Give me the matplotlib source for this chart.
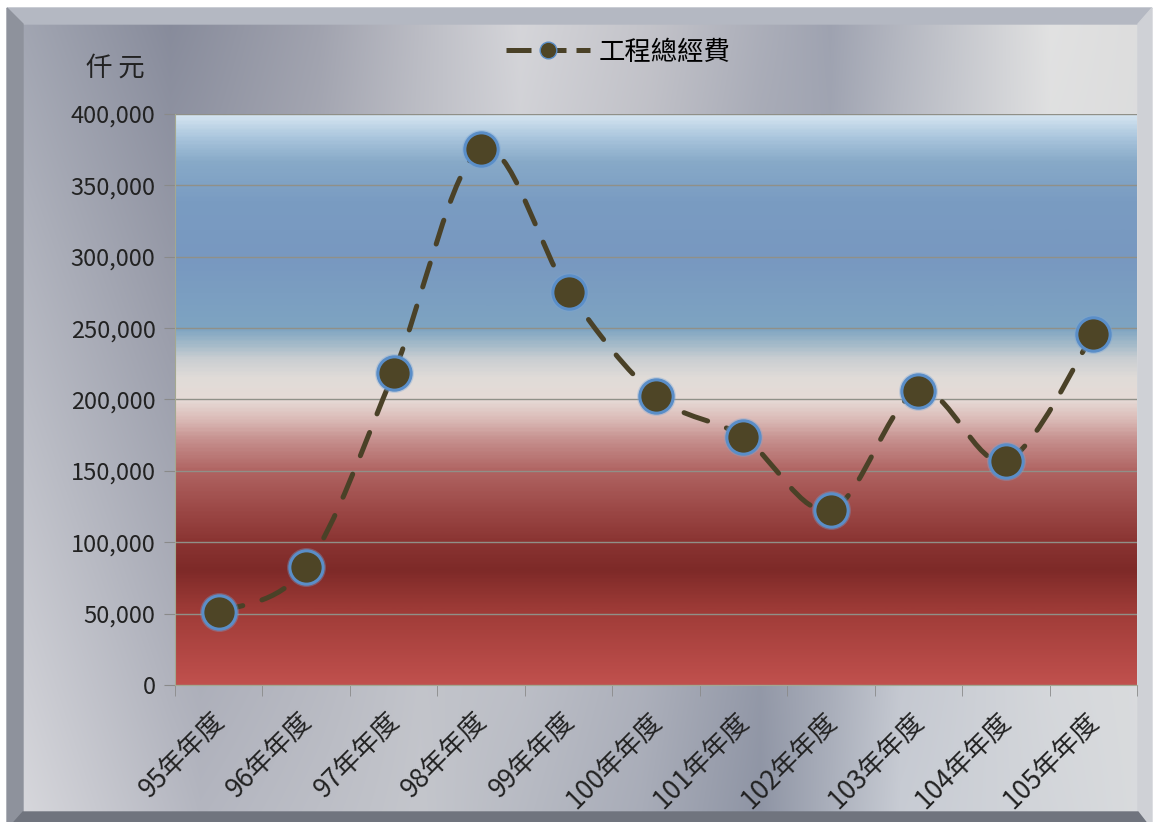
import numpy as np
import matplotlib
matplotlib.use('Agg')
import matplotlib.pyplot as plt
import matplotlib.transforms as mtransforms
from matplotlib.path import Path
from matplotlib.patches import PathPatch, Polygon
from matplotlib.colors import LinearSegmentedColormap, to_rgb
from matplotlib.lines import Line2D
from matplotlib.ticker import FuncFormatter, MultipleLocator

plt.rcParams['font.family'] = ['Noto Sans CJK TC', 'DejaVu Sans']

# 資料
years = ['95年年度', '96年年度', '97年年度', '98年年度', '99年年度', '100年年度',
         '101年年度', '102年年度', '103年年度', '104年年度', '105年年度']
funding = [51000, 82700, 218600, 375500, 275300, 202500,
           173700, 122600, 206000, 156900, 245900]
series_name = '工程總經費'
unit_label = '仟 元'

W, H = 1157, 822
fig = plt.figure(figsize=(W / 100, H / 100), dpi=100)
fig.patch.set_facecolor('white')

# 背景 (金屬感漸層 + 斜角外框)
bg = fig.add_axes([0, 0, 1, 1], zorder=-10)
bg.set_xlim(0, W)
bg.set_ylim(H, 0)
bg.axis('off')


def perfil(stops, xs):
    px = [s[0] for s in stops]
    cols = np.array([to_rgb(s[1]) for s in stops])
    return np.stack([np.interp(xs, px, cols[:, c]) for c in range(3)], axis=-1)


xs = np.arange(W)
top = perfil([(0, '#a4a8b4'), (170, '#868a9a'), (320, '#a0a2ae'), (520, '#d6d6da'),
              (650, '#c4c4ca'), (830, '#9ea2b0'), (1050, '#e2e2e2'), (1157, '#dcdcdc')], xs)
bottom = perfil([(0, '#dcdce0'), (200, '#b4b6c0'), (420, '#c4c6cc'), (640, '#a8acb8'),
                 (760, '#8e94a4'), (900, '#c8ccd4'), (1157, '#dadcde')], xs)
t = np.linspace(0, 1, H)[:, None, None]
img = top[None, :, :] * (1 - t) + bottom[None, :, :] * t
bg.imshow(img, extent=[0, W, H, 0], aspect='auto', zorder=0)

# 外框白邊
ox0, oy0, ox1, oy1 = 7, 8, 1152, 830
ix0, iy0, ix1, iy1 = 23, 24, 1138, 812
for rect in [(0, 0, W, oy0), (0, 0, ox0, H), (ox1, 0, W, H)]:
    bg.add_patch(plt.Rectangle((rect[0], rect[1]), rect[2] - rect[0], rect[3] - rect[1],
                               color='white', zorder=2))
bg.add_patch(Polygon([(ox0, oy0), (ox1, oy0), (ix1, iy0), (ix0, iy0)], color='#b4b8c2', zorder=3))
bg.add_patch(Polygon([(ox0, oy0), (ix0, iy0), (ix0, iy1), (ox0, oy1)], color='#8e929c', zorder=3))
bg.add_patch(Polygon([(ox1, oy0), (ox1, oy1), (ix1, iy1), (ix1, iy0)], color='#cfd1d6', zorder=3))
bg.add_patch(Polygon([(ix0, iy1), (ix1, iy1), (ox1, oy1), (ox0, oy1)], color='#70747e', zorder=3))

# 主圖
ax = fig.add_axes([175 / W, 1 - 685 / H, 962 / W, 571 / H])
ax.patch.set_alpha(0)
ax.set_xlim(-0.5, len(years) - 0.5)
ax.set_ylim(0, 400000)

grad = LinearSegmentedColormap.from_list('area', [
    (0.0, '#c0504d'), (0.125, '#a03c38'), (0.20, '#7e2a28'), (0.25, '#8a3432'),
    (0.30, '#9a4644'), (0.375, '#b06462'), (0.425, '#c48c8a'), (0.47, '#ddc0bc'),
    (0.50, '#e6dad6'), (0.5375, '#e0dcd8'), (0.57, '#cccfd2'), (0.60, '#a0b8c8'),
    (0.625, '#7ea4c2'), (0.75, '#7898c0'), (0.85, '#7a9cc2'),
    (0.92, '#88aac8'), (0.96, '#a8c4dc'), (1.0, '#d4e4f0')])
ax.imshow(np.linspace(0, 1, 400)[:, None], cmap=grad, origin='lower', aspect='auto',
          extent=[-0.5, len(years) - 0.5, 0, 400000], zorder=0)

ax.yaxis.set_major_locator(MultipleLocator(50000))
ax.yaxis.set_major_formatter(FuncFormatter(lambda v, p: f'{v:,.0f}'))
ax.grid(axis='y', color='#909088', lw=1, zorder=1)

x = np.arange(len(years))
ax.set_xticks(x)
ax.set_xticklabels(years, rotation=45, ha='right', va='top', rotation_mode='anchor', fontsize=19)
ax.set_xticks(np.arange(-0.5, len(years)), minor=True)
ax.tick_params(axis='x', which='major', length=0, pad=16, colors='#222222')
ax.tick_params(axis='x', which='minor', length=8, color='#8a8a8a', direction='out')
ax.tick_params(axis='y', length=8, color='#8a8a8a', labelsize=17, labelcolor='#222222', pad=6)
shift = mtransforms.ScaledTranslation(-8 / 100, 0, fig.dpi_scale_trans)
for lab in ax.get_xticklabels():
    lab.set_transform(lab.get_transform() + shift)
for s in ['top', 'right']:
    ax.spines[s].set_visible(False)
ax.spines['bottom'].set_color('#a4a890')
ax.spines['left'].set_color('#a4a890')

# 平滑曲線 (Bezier)
pts = np.column_stack([x, funding]).astype(float)
n = len(pts)
verts = [pts[0]]
codes = [Path.MOVETO]
for i in range(n - 1):
    p0 = pts[i - 1] if i > 0 else pts[i]
    p1, p2 = pts[i], pts[i + 1]
    p3 = pts[i + 2] if i + 2 < n else pts[i + 1]
    verts += [p1 + (p2 - p0) / 6, p2 - (p3 - p1) / 6, p2]
    codes += [Path.CURVE4] * 3
curve = PathPatch(Path(verts, codes), fill=False, edgecolor='#4a4127', lw=3.6,
                  linestyle=(0, (5, 4)), capstyle='round', zorder=3)
ax.add_patch(curve)

ax.plot(x, funding, 'o', ms=28, mfc='#7aa6d8', mec='none', alpha=0.35, zorder=4)
ax.plot(x, funding, 'o', ms=24, mfc='#4e4526', mec='#5a8ec8', mew=2.2, zorder=5)

# 圖例
handle = Line2D([], [], color='#4a4127', lw=3.6, linestyle=(0, (5, 2)),
                marker='o', ms=12, mfc='#4e4526', mec='#5a8ec8', mew=1)
fig.legend([handle], [series_name], loc='center', bbox_to_anchor=(618 / W, 1 - 52 / H),
           frameon=False, fontsize=19, handlelength=3.2, handletextpad=0.3)

fig.text(145 / W, 1 - 68 / H, unit_label, ha='right', va='center', fontsize=19, color='#222222')

fig.savefig('out.png', dpi=100)
